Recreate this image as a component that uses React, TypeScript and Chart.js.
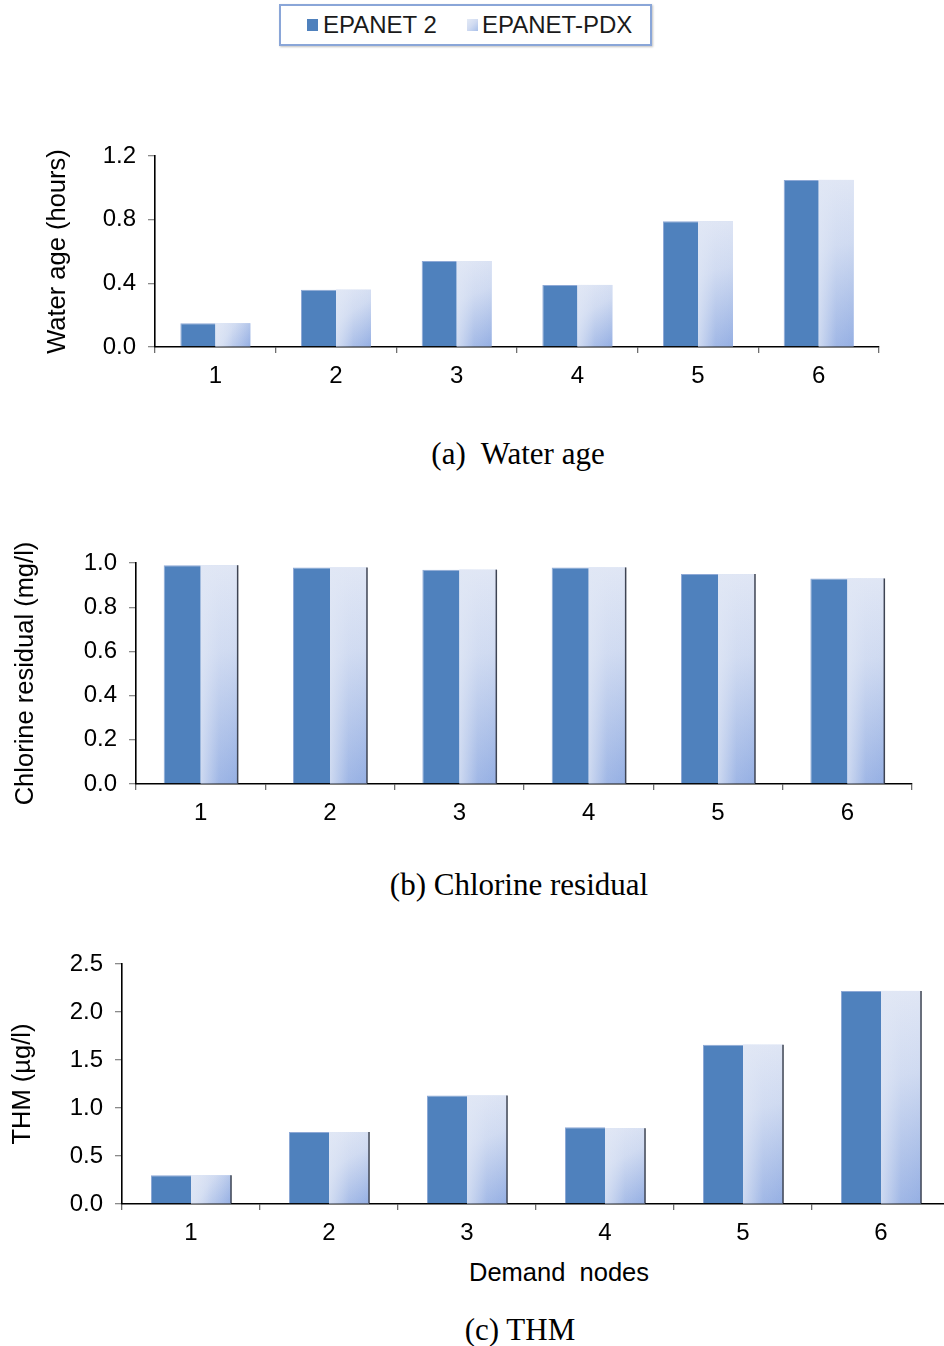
import React, { useEffect, useRef } from "react";
import { Chart, registerables } from "chart.js";

Chart.register(...registerables);

// Demand nodes on the x axis
const nodes = ["1", "2", "3", "4", "5", "6"];

// (a) Water age, hours
const waterAgeEpanet2 = [0.15, 0.36, 0.54, 0.39, 0.79, 1.05];
const waterAgePdx = [0.15, 0.36, 0.54, 0.39, 0.79, 1.05];
const waterAgeTicks = [0, 0.4, 0.8, 1.2];

// (b) Chlorine residual, mg/l
const chlorineEpanet2 = [0.99, 0.98, 0.97, 0.98, 0.95, 0.93];
const chlorinePdx = [0.99, 0.98, 0.97, 0.98, 0.95, 0.93];
const chlorineTicks = [0, 0.2, 0.4, 0.6, 0.8, 1.0];

// (c) THM, µg/l
const thmEpanet2 = [0.3, 0.75, 1.13, 0.8, 1.66, 2.22];
const thmPdx = [0.3, 0.75, 1.13, 0.79, 1.66, 2.22];
const thmTicks = [0, 0.5, 1.0, 1.5, 2.0, 2.5];

const SANS = "'Liberation Sans', Arial, Helvetica, sans-serif";
const SERIF = "'Liberation Serif', 'Times New Roman', Times, serif";
const SOLID = "#4F81BD";
const TICK_SIZE = 24;
const TITLE_SIZE = 25.5;

// Paints the EPANET-PDX bars with a light-to-blue diagonal shading.
const pdxShade = {
  id: "pdxShade",
  afterDatasetDraw(chart: any, args: any, opts: any) {
    if (args.index !== 1) return;
    const ctx = chart.ctx;
    args.meta.data.forEach((el: any) => {
      const p = el.getProps(["x", "y", "base", "width"], true);
      const left = p.x - p.width / 2;
      const right = p.x + p.width / 2;
      const top = Math.min(p.y, p.base);
      const bottom = Math.max(p.y, p.base);
      const h = bottom - top;
      if (h <= 0) return;
      ctx.save();
      const g = ctx.createLinearGradient(left, top, right, bottom);
      g.addColorStop(0, "#E1E7F5");
      g.addColorStop(0.4, "#CFDAF1");
      g.addColorStop(1, "#95AFE3");
      ctx.fillStyle = g;
      ctx.fillRect(left, top, p.width, h);
      const hz = ctx.createLinearGradient(left, 0, right, 0);
      hz.addColorStop(0, "rgba(224,231,245,0.75)");
      hz.addColorStop(0.5, "rgba(224,231,245,0.12)");
      hz.addColorStop(1, "rgba(224,231,245,0)");
      ctx.fillStyle = hz;
      ctx.fillRect(left, top, p.width, h);
      if (opts && opts.edge) {
        ctx.strokeStyle = "#3E4453";
        ctx.lineWidth = 1.5;
        ctx.beginPath();
        ctx.moveTo(right, top);
        ctx.lineTo(right, bottom);
        ctx.stroke();
      }
      ctx.restore();
    });
  },
};

type PanelProps = {
  top: number;
  width: number;
  height: number;
  padLeft: number;
  padRight: number;
  padTop: number;
  yWidth: number;
  xHeight: number;
  yTitle: string;
  ticks: number[];
  max: number;
  seriesA: number[];
  seriesB: number[];
  cat: number;
  edge: boolean;
};

function BarPanel(props: PanelProps) {
  const ref = useRef<HTMLCanvasElement>(null);
  useEffect(() => {
    const tickFont = { family: SANS, size: TICK_SIZE };
    const titleFont = { family: SANS, size: TITLE_SIZE };
    const chart = new Chart(ref.current as HTMLCanvasElement, {
      type: "bar",
      data: {
        labels: nodes,
        datasets: [
          {
            label: "EPANET 2",
            data: props.seriesA,
            backgroundColor: SOLID,
            borderColor: "#8EA9D6",
            borderWidth: { top: 1, left: 1, right: 0, bottom: 0 },
            borderSkipped: false,
            categoryPercentage: props.cat,
            barPercentage: 1,
          },
          {
            label: "EPANET-PDX",
            data: props.seriesB,
            backgroundColor: "#CBD8F0",
            borderWidth: 0,
            categoryPercentage: props.cat,
            barPercentage: 1,
          },
        ],
      },
      options: {
        animation: false,
        responsive: false,
        maintainAspectRatio: false,
        devicePixelRatio: 1,
        layout: {
          padding: { left: props.padLeft, right: props.padRight, top: props.padTop, bottom: 0 },
        },
        plugins: {
          legend: { display: false },
          tooltip: { enabled: false },
          pdxShade: { edge: props.edge },
        } as any,
        scales: {
          x: {
            grid: {
              offset: true,
              drawOnChartArea: false,
              drawTicks: true,
              tickLength: 6,
              color: "#6E6E6E",
              lineWidth: 1.3,
            },
            border: { color: "#000000", width: 1.6 },
            ticks: { font: tickFont, color: "#000000", padding: 9, maxRotation: 0 },
            afterFit: (s: any) => {
              s.height = props.xHeight;
            },
          },
          y: {
            min: 0,
            max: props.max,
            grid: {
              drawOnChartArea: false,
              drawTicks: true,
              tickLength: 7,
              color: "#8A8A8A",
              lineWidth: 1.3,
            },
            border: { color: "#000000", width: 1.6 },
            ticks: {
              font: tickFont,
              color: "#000000",
              padding: 12,
              callback: (v: any) => Number(v).toFixed(1),
            },
            afterBuildTicks: (s: any) => {
              s.ticks = props.ticks.map((v) => ({ value: v }));
            },
            afterFit: (s: any) => {
              s.width = props.yWidth;
            },
            title: {
              display: true,
              text: props.yTitle,
              font: titleFont,
              color: "#000000",
              padding: 0,
            },
          },
        },
      } as any,
      plugins: [pdxShade],
    });
    return () => chart.destroy();
  }, []);
  return (
    <canvas
      ref={ref}
      width={props.width}
      height={props.height}
      style={{
        position: "absolute",
        left: 0,
        top: props.top,
        width: props.width,
        height: props.height,
      }}
    />
  );
}

function Caption({ text, cx, cy, size, family }: { text: string; cx: number; cy: number; size: number; family: string }) {
  return (
    <div
      style={{
        position: "absolute",
        left: cx - 300,
        width: 600,
        top: cy - size / 2,
        height: size,
        lineHeight: `${size}px`,
        textAlign: "center",
        fontFamily: family,
        fontSize: size,
        color: "#000",
        whiteSpace: "pre",
      }}
    >
      {text}
    </div>
  );
}

function Legend() {
  const text: React.CSSProperties = {
    position: "absolute",
    top: 6,
    fontFamily: SANS,
    fontSize: 24,
    lineHeight: "26px",
    color: "#1A1A1A",
    whiteSpace: "pre",
  };
  return (
    <div
      style={{
        position: "absolute",
        left: 279,
        top: 4,
        width: 369,
        height: 38,
        border: "2px solid #8AA6D8",
        boxShadow: "1px 1px 2px rgba(0,0,0,0.25)",
        background: "#fff",
      }}
    >
      <div style={{ position: "absolute", left: 26, top: 13, width: 11, height: 12, background: SOLID }} />
      <div style={{ ...text, left: 42 }}>EPANET 2</div>
      <div
        style={{
          position: "absolute",
          left: 186,
          top: 13,
          width: 11,
          height: 12,
          background: "linear-gradient(135deg, #E4EAF6 0%, #D0DBF1 50%, #A9C0EA 100%)",
        }}
      />
      <div style={{ ...text, left: 201 }}>EPANET-PDX</div>
    </div>
  );
}

export default function App() {
  return (
    <div
      style={{
        position: "fixed",
        left: 0,
        top: 0,
        width: 944,
        height: 1346,
        overflow: "hidden",
        background: "#ffffff",
      }}
    >
      <Legend />
      <BarPanel
        top={120}
        width={944}
        height={300}
        padLeft={43}
        padRight={65}
        padTop={36}
        yWidth={112}
        xHeight={73}
        yTitle="Water age (hours)"
        ticks={waterAgeTicks}
        max={1.2}
        seriesA={waterAgeEpanet2}
        seriesB={waterAgePdx}
        cat={0.58}
        edge={false}
      />
      <Caption text="(a)  Water age" cx={518} cy={453} size={31} family={SERIF} />
      <BarPanel
        top={530}
        width={944}
        height={300}
        padLeft={11}
        padRight={32}
        padTop={33}
        yWidth={125}
        xHeight={46}
        yTitle="Chlorine residual (mg/l)"
        ticks={chlorineTicks}
        max={1.0}
        seriesA={chlorineEpanet2}
        seriesB={chlorinePdx}
        cat={0.572}
        edge={true}
      />
      <Caption text="(b) Chlorine residual" cx={519} cy={884} size={31} family={SERIF} />
      <BarPanel
        top={930}
        width={960}
        height={320}
        padLeft={8}
        padRight={10}
        padTop={34}
        yWidth={114}
        xHeight={46}
        yTitle="THM (µg/l)"
        ticks={thmTicks}
        max={2.5}
        seriesA={thmEpanet2}
        seriesB={thmPdx}
        cat={0.58}
        edge={true}
      />
      <Caption text="Demand  nodes" cx={559} cy={1273} size={25.5} family={SANS} />
      <Caption text="(c) THM" cx={520} cy={1329} size={31} family={SERIF} />
    </div>
  );
}
